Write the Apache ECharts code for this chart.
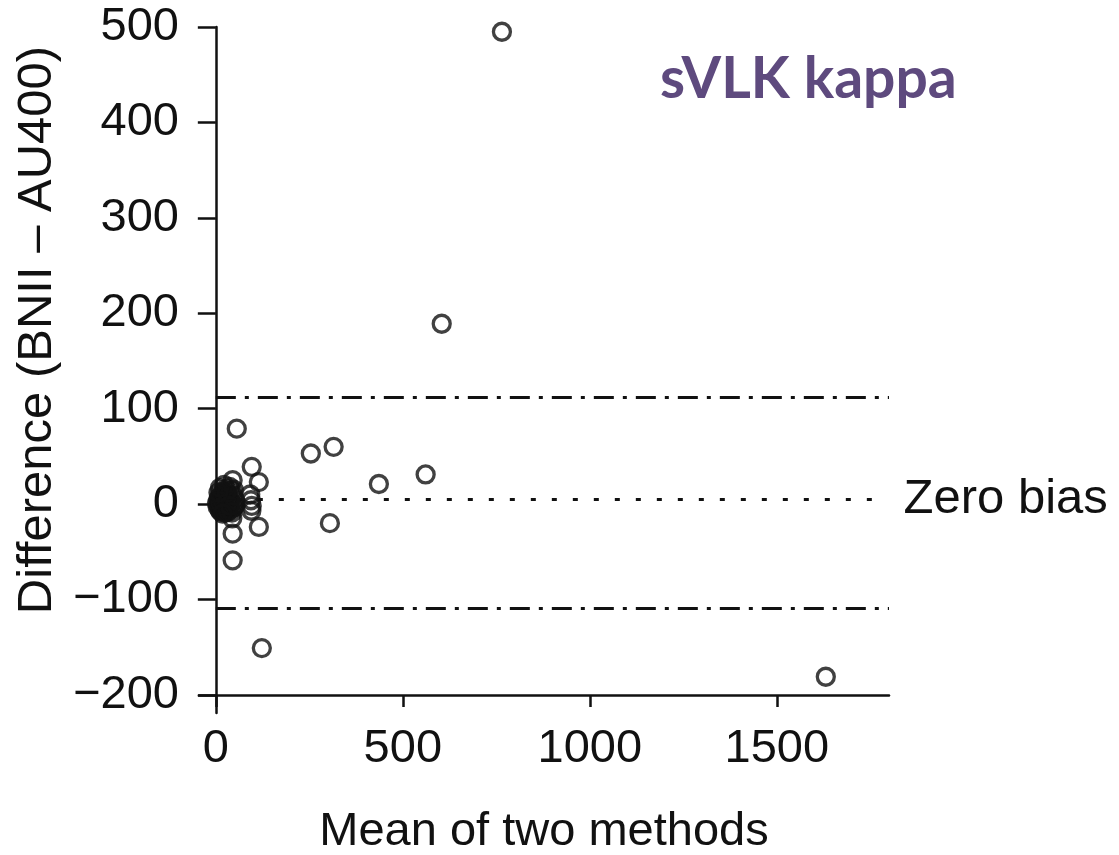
<!DOCTYPE html>
<html>
<head>
<meta charset="utf-8">
<script src="https://cdn.jsdelivr.net/npm/echarts@6/dist/echarts.min.js"></script>
<style>html,body{margin:0;padding:0;background:#fff;}#c{width:1119px;height:855px;}</style>
</head>
<body>
<div id="c"></div>
<script>
// Mean of two methods (x) and difference BNII - AU400 (y)
const meanValues = [765, 604, 56, 254, 315, 96, 115, 436, 561, 305, 115, 45, 45, 123, 1631, 45, 44,
  3, 5, 6, 8, 9, 10, 12, 13, 14, 16, 17, 19, 20, 21, 23, 24, 26, 27, 28, 30, 31, 33, 34, 36, 37, 39, 40, 42, 43, 45, 47, 48, 50, 52, 22, 11, 29, 38, 7, 18,
  92, 94, 96, 95];
const diffValues = [495, 189, 79, 53, 60, 39, 23, 21, 31, -20, -24, -31, -59, -151, -181, 25, -15,
  1, -3, 4, -1, 7, -6, 2, -8, 10, -4, 5, -7, 13, 0, -5, 8, -9, 16, 3, -5, 11, -8, 6, -1, 18, -6, 14, 2, -9, 9, -4, 15, -2, 4, 20, 17, 12, -2, 12, -10,
  10, 4, -2, -7];
const upperLimit = 112;
const lowerLimit = -109;
const biasLine = 5;
const xTicks = [0, 500, 1000, 1500];
const yTicks = [-200, -100, 0, 100, 200, 300, 400, 500];
const chartTitle = 'sVLK kappa';
const xName = 'Mean of two methods';
const yName = 'Difference (BNII \u2013 AU400)';
const biasLabel = 'Zero bias';

const points = meanValues.map((m, i) => [m, diffValues[i]]);
const ink = '#111111';
const font = '"Liberation Sans", Arial, sans-serif';

const chart = echarts.init(document.getElementById('c'), null, {renderer: 'canvas'});
chart.setOption({
  backgroundColor: '#fff',
  animation: false,
  title: {
    text: chartTitle,
    left: 655, top: 46,
    textStyle: {fontFamily: 'Lato, "Open Sans", sans-serif', fontWeight: 'bold', fontSize: 57, color: '#5e4a7e'}
  },
  grid: {left: 199, right: 230, top: 27, bottom: 142, containLabel: false, outerBoundsMode: 'none'},
  xAxis: {
    type: 'value', min: -45, max: 1800,
    offset: -18,
    axisLine: {onZero: false, lineStyle: {color: ink, width: 2.5}},
    axisTick: {show: true, customValues: xTicks, length: 12, lineStyle: {color: ink, width: 2.5}},
    axisLabel: {customValues: xTicks, margin: 31, fontSize: 47, color: ink, fontFamily: font,
      formatter: v => String(v)},
    splitLine: {show: false},
    name: xName, nameLocation: 'middle', nameGap: 114,
    nameTextStyle: {fontSize: 47, color: ink, fontFamily: font}
  },
  yAxis: {
    type: 'value', min: -219, max: 500,
    axisLine: {onZero: true, lineStyle: {color: ink, width: 2.5}},
    axisTick: {show: true, customValues: yTicks, length: 18, lineStyle: {color: ink, width: 2.5}},
    axisLabel: {customValues: yTicks, margin: 20, fontSize: 47, color: ink, fontFamily: font,
      formatter: v => (v < 0 ? '\u2212' + Math.abs(v) : String(v))},
    splitLine: {show: false},
    name: yName, nameLocation: 'middle', nameGap: 137,
    nameTextStyle: {fontSize: 49, color: ink, fontFamily: font, padding: [0, 0, 0, 80]}
  },
  series: [{
    type: 'scatter',
    data: points,
    symbol: 'circle',
    symbolSize: 17,
    itemStyle: {color: 'rgba(0,0,0,0)', borderColor: ink, borderWidth: 3.3},
    z: 3,
    markLine: {
      silent: true,
      symbol: ['none', 'none'],
      label: {show: false},
      data: [
        [{coord: [0, upperLimit], lineStyle: {type: [20, 9, 4, 9], width: 3, color: ink}}, {coord: [1800, upperLimit]}],
        [{coord: [0, lowerLimit], lineStyle: {type: [20, 9, 4, 9], width: 3, color: ink}}, {coord: [1800, lowerLimit]}],
        [{coord: [0, biasLine], lineStyle: {type: [5, 16], width: 3, color: ink},
          label: {show: true, position: 'end', formatter: biasLabel, distance: 22, fontSize: 49, color: ink, fontFamily: font}},
         {coord: [1780, biasLine]}]
      ]
    }
  }]
});
</script>
</body>
</html>
